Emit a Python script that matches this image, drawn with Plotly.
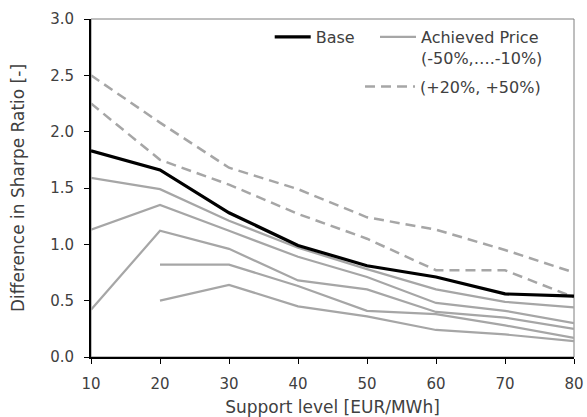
import plotly.graph_objects as go

support = [10, 20, 30, 40, 50, 60, 70, 80]
base = [1.83, 1.66, 1.28, 0.99, 0.81, 0.71, 0.56, 0.54]
up_50 = [2.50, 2.08, 1.68, 1.49, 1.24, 1.13, 0.95, 0.75]
up_20 = [2.25, 1.75, 1.53, 1.27, 1.05, 0.77, 0.77, 0.53]
down_10 = [1.59, 1.49, 1.21, 0.97, 0.78, 0.60, 0.49, 0.44]
down_20 = [1.13, 1.35, 1.12, 0.89, 0.71, 0.48, 0.41, 0.30]
down_30 = [0.42, 1.12, 0.96, 0.68, 0.60, 0.40, 0.35, 0.25]
down_40 = [None, 0.82, 0.82, 0.63, 0.41, 0.38, 0.28, 0.17]
down_50 = [None, 0.50, 0.64, 0.45, 0.36, 0.24, 0.20, 0.14]

GRAY = "#A6A6A6"
TXT = "#404040"
FONT = "DejaVu Sans"

fig = go.Figure()

gray_series = [down_10, down_20, down_30, down_40, down_50]
for i, s in enumerate(gray_series):
    fig.add_trace(go.Scatter(
        x=support, y=s, mode="lines", name="Achieved Price<br>(-50%,….-10%)",
        line=dict(color=GRAY, width=2.2), legendgroup="ach", showlegend=(i == 0),
        legend="legend3", connectgaps=False))

for i, s in enumerate([up_50, up_20]):
    fig.add_trace(go.Scatter(
        x=support, y=s, mode="lines", name="(+20%, +50%)",
        line=dict(color=GRAY, width=2.5, dash="10px,6px"), legendgroup="up",
        showlegend=(i == 0), legend="legend2"))

fig.add_trace(go.Scatter(
    x=support, y=base, mode="lines", name="Base",
    line=dict(color="black", width=3.2), legend="legend", showlegend=True))

leg_common = dict(orientation="h", xanchor="left", yanchor="top",
                  font=dict(size=16, color=TXT), bgcolor="rgba(0,0,0,0)")

fig.update_layout(
    width=587, height=417,
    showlegend=True,
    margin=dict(l=91, r=13, t=19, b=60),
    paper_bgcolor="white", plot_bgcolor="white",
    font=dict(family=FONT, color=TXT, size=15),
    legend=dict(x=0.37, y=0.997, itemwidth=36, visible=True, **leg_common),
    legend3=dict(x=0.588, y=0.997, itemwidth=36, valign="top", **leg_common),
    legend2=dict(x=0.557, y=0.85, itemwidth=50, **leg_common),
    xaxis=dict(range=[10, 80], tickvals=support, ticks="outside", ticklen=5,
               tickcolor="black", showline=True, linecolor="black", linewidth=1.5,
               showgrid=False, zeroline=False, ticklabelstandoff=7, automargin=False,
               tickfont=dict(size=15, color=TXT),
               title=dict(text="Support level [EUR/MWh]", font=dict(size=17, color=TXT), standoff=12)),
    yaxis=dict(range=[0, 3], dtick=0.5, tickformat=".1f", ticks="outside", ticklen=5,
               tickcolor="black", showline=True, linecolor="black", linewidth=2,
               showgrid=False, zeroline=False, ticklabelstandoff=7, automargin=False,
               tickfont=dict(size=15, color=TXT),
               title=dict(text="Difference in Sharpe Ratio [-]", font=dict(size=17, color=TXT), standoff=21)),
    shapes=[dict(type="rect", xref="paper", yref="paper", x0=0, x1=1, y0=0, y1=1,
                 line=dict(color="#7F7F7F", width=1), layer="below")],
)

fig.write_html("out.html")
